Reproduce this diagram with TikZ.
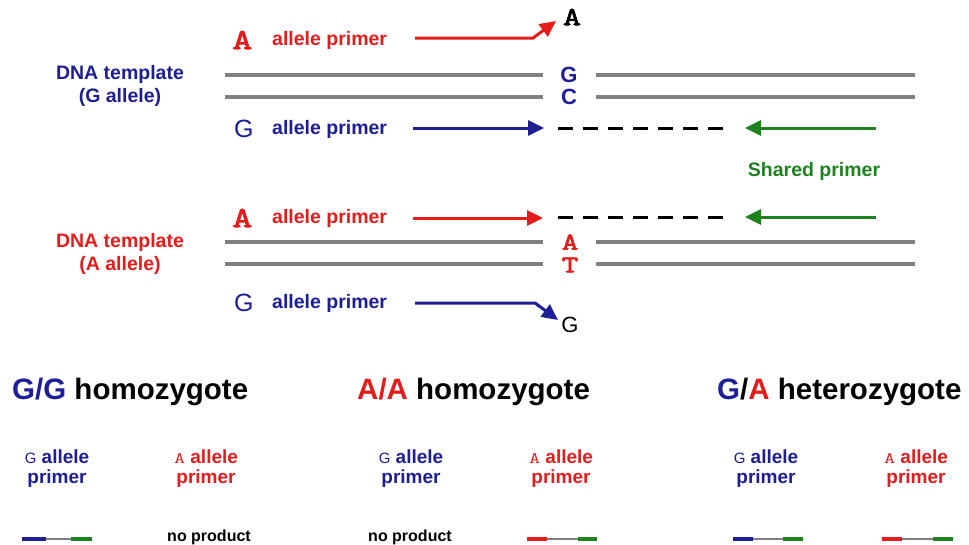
\documentclass[tikz,border=0pt]{standalone}
\usepackage{fontspec}
\setmainfont{Liberation Sans}
\newfontfamily\monof{Latin Modern Mono}[AutoFakeBold=3,FakeStretch=1.35]
\usetikzlibrary{arrows.meta}
\definecolor{dblue}{RGB}{30,30,150}
\definecolor{dred}{RGB}{228,28,28}
\definecolor{dgreen}{RGB}{30,130,30}
\definecolor{lgray}{RGB}{128,128,128}
\newcommand{\gsub}{{\mdseries\fontsize{15}{15}\selectfont G} allele\\primer}
\newcommand{\asub}{{\monof\mdseries\fontsize{16}{16}\selectfont A} allele\\primer}
\begin{document}
\begin{tikzpicture}[x=1pt,y=-1pt,
  strand/.style={draw=lgray,line width=3.5pt},
  prim/.style={line width=3pt,-{Triangle[length=16pt,width=15pt]}},
  dashprod/.style={draw=black,line width=3pt,dash pattern=on 15pt off 10pt},
  lbl/.style={font=\bfseries\fontsize{19.5}{23}\selectfont,inner sep=0pt},
  monolet/.style={font=\monof\bfseries\fontsize{29}{29}\selectfont,inner sep=0pt},
  smallmono/.style={font=\monof\bfseries\fontsize{26}{26}\selectfont,inner sep=0pt},
  basemono/.style={font=\monof\bfseries\fontsize{24}{24}\selectfont,inner sep=0pt},
  sanslet/.style={font=\bfseries\fontsize{22}{22}\selectfont,inner sep=0pt},
  head/.style={font=\bfseries\fontsize{29.5}{30}\selectfont,inner sep=0pt},
  sub/.style={font=\bfseries\fontsize{19}{20}\selectfont,inner sep=0pt,align=center},
  prod/.style={line width=3.5pt}]
\useasboundingbox[fill=white] (0,0) rectangle (969,544);

% ---------- block 1: G allele template ----------
\node[lbl,text=dblue,align=center] (tmplG) at (120,86) {DNA template\\(G allele)};
\node[monolet,text=dred,anchor=west] (Ared1) at (232,40) {A};
\node[lbl,text=dred,anchor=west] (aprim1) at (272,40) {allele primer};
\coordinate (r1s) at (415,38);
\coordinate (r1b) at (533,38);
\coordinate (r1t) at (556,21);
\draw[prim,dred] (r1s) -- (r1b) -- (r1t);
\node[smallmono,text=black] (Ablk) at (572,17) {A};

\coordinate (g1l1) at (225,75); \coordinate (g1l1e) at (543,75);
\coordinate (g1r1) at (596,75); \coordinate (g1r1e) at (915,75);
\coordinate (g1l2) at (225,97); \coordinate (g1l2e) at (543,97);
\coordinate (g1r2) at (596,97); \coordinate (g1r2e) at (915,97);
\draw[strand] (g1l1) -- (g1l1e); \draw[strand] (g1r1) -- (g1r1e);
\draw[strand] (g1l2) -- (g1l2e); \draw[strand] (g1r2) -- (g1r2e);
\node[sanslet,text=dblue] (Gb) at (569,75) {G};
\node[sanslet,text=dblue] (Cb) at (569,97) {C};

\node[font=\fontsize{25}{25}\selectfont,inner sep=0pt,text=dblue,anchor=west] (Gblue1) at (234,129) {G};
\node[lbl,text=dblue,anchor=west] (gprim1) at (272,129) {allele primer};
\coordinate (b1s) at (413,128);
\coordinate (b1t) at (544,128);
\draw[prim,dblue] (b1s) -- (b1t);
\coordinate (d1s) at (558,128);
\coordinate (d1e) at (725,128);
\draw[dashprod] (d1s) -- (d1e);
\coordinate (gr1s) at (876,128);
\coordinate (gr1t) at (745,128);
\draw[prim,dgreen] (gr1s) -- (gr1t);
\node[lbl,text=dgreen] (shared) at (814,171) {Shared primer};

% ---------- block 2: A allele template ----------
\node[lbl,text=dred,align=center] (tmplA) at (120,254) {DNA template\\(A allele)};
\node[monolet,text=dred,anchor=west] (Ared2) at (232,218) {A};
\node[lbl,text=dred,anchor=west] (aprim2) at (272,218) {allele primer};
\coordinate (r2s) at (413,218);
\coordinate (r2t) at (543,218);
\draw[prim,dred] (r2s) -- (r2t);
\coordinate (d2s) at (558,217);
\coordinate (d2e) at (725,217);
\draw[dashprod] (d2s) -- (d2e);
\coordinate (gr2s) at (876,217);
\coordinate (gr2t) at (745,217);
\draw[prim,dgreen] (gr2s) -- (gr2t);

\coordinate (a2l1) at (225,242); \coordinate (a2l1e) at (543,242);
\coordinate (a2r1) at (596,242); \coordinate (a2r1e) at (915,242);
\coordinate (a2l2) at (225,264); \coordinate (a2l2e) at (543,264);
\coordinate (a2r2) at (596,264); \coordinate (a2r2e) at (915,264);
\draw[strand] (a2l1) -- (a2l1e); \draw[strand] (a2r1) -- (a2r1e);
\draw[strand] (a2l2) -- (a2l2e); \draw[strand] (a2r2) -- (a2r2e);
\node[basemono,text=dred] (Ar) at (570,242) {A};
\node[basemono,text=dred] (Tr) at (570,265) {T};

\node[font=\fontsize{25}{25}\selectfont,inner sep=0pt,text=dblue,anchor=west] (Gblue2) at (234,303) {G};
\node[lbl,text=dblue,anchor=west] (gprim2) at (272,303) {allele primer};
\coordinate (b2s) at (415,303);
\coordinate (b2b) at (535,303);
\coordinate (b2t) at (558,320);
\draw[prim,dblue] (b2s) -- (b2b) -- (b2t);
\node[font=\fontsize{22}{22}\selectfont,inner sep=0pt,text=black] (Gblk) at (570,325) {G};

% ---------- bottom: genotypes ----------
\node[head,anchor=west] (hGG) at (12,392) {\textcolor{dblue}{G/G} homozygote};
\node[head,anchor=west] (hAA) at (357,392) {\textcolor{dred}{A/A} homozygote};
\node[head,anchor=west] (hGA) at (717,392) {\textcolor{dblue}{G}/\textcolor{dred}{A} heterozygote};

\node[sub,text=dblue] (s1) at (57,469) {\gsub};
\node[sub,text=dred] (s2) at (206,469) {\asub};
\node[sub,text=dblue] (s3) at (411,469) {\gsub};
\node[sub,text=dred] (s4) at (561,469) {\asub};
\node[sub,text=dblue] (s5) at (766,469) {\gsub};
\node[sub,text=dred] (s6) at (916,469) {\asub};

\node[font=\bfseries\fontsize{16}{16}\selectfont,inner sep=0pt] (np1) at (209,537) {no product};
\node[font=\bfseries\fontsize{16}{16}\selectfont,inner sep=0pt] (np2) at (410,537) {no product};

% products
\coordinate (p1a) at (22,539); \coordinate (p1b) at (46,539);
\coordinate (p1c) at (71,539); \coordinate (p1d) at (92,539);
\draw[prod,dblue] (p1a) -- (p1b); \draw[line width=2pt,lgray] (p1b) -- (p1c); \draw[prod,dgreen] (p1c) -- (p1d);

\coordinate (p2a) at (527,539); \coordinate (p2b) at (547,539);
\coordinate (p2c) at (578,539); \coordinate (p2d) at (597,539);
\draw[prod,dred] (p2a) -- (p2b); \draw[line width=2pt,lgray] (p2b) -- (p2c); \draw[prod,dgreen] (p2c) -- (p2d);

\coordinate (p3a) at (733,539); \coordinate (p3b) at (753,539);
\coordinate (p3c) at (783,539); \coordinate (p3d) at (803,539);
\draw[prod,dblue] (p3a) -- (p3b); \draw[line width=2pt,lgray] (p3b) -- (p3c); \draw[prod,dgreen] (p3c) -- (p3d);

\coordinate (p4a) at (882,539); \coordinate (p4b) at (902,539);
\coordinate (p4c) at (933,539); \coordinate (p4d) at (953,539);
\draw[prod,dred] (p4a) -- (p4b); \draw[line width=2pt,lgray] (p4b) -- (p4c); \draw[prod,dgreen] (p4c) -- (p4d);
\end{tikzpicture}
\end{document}
